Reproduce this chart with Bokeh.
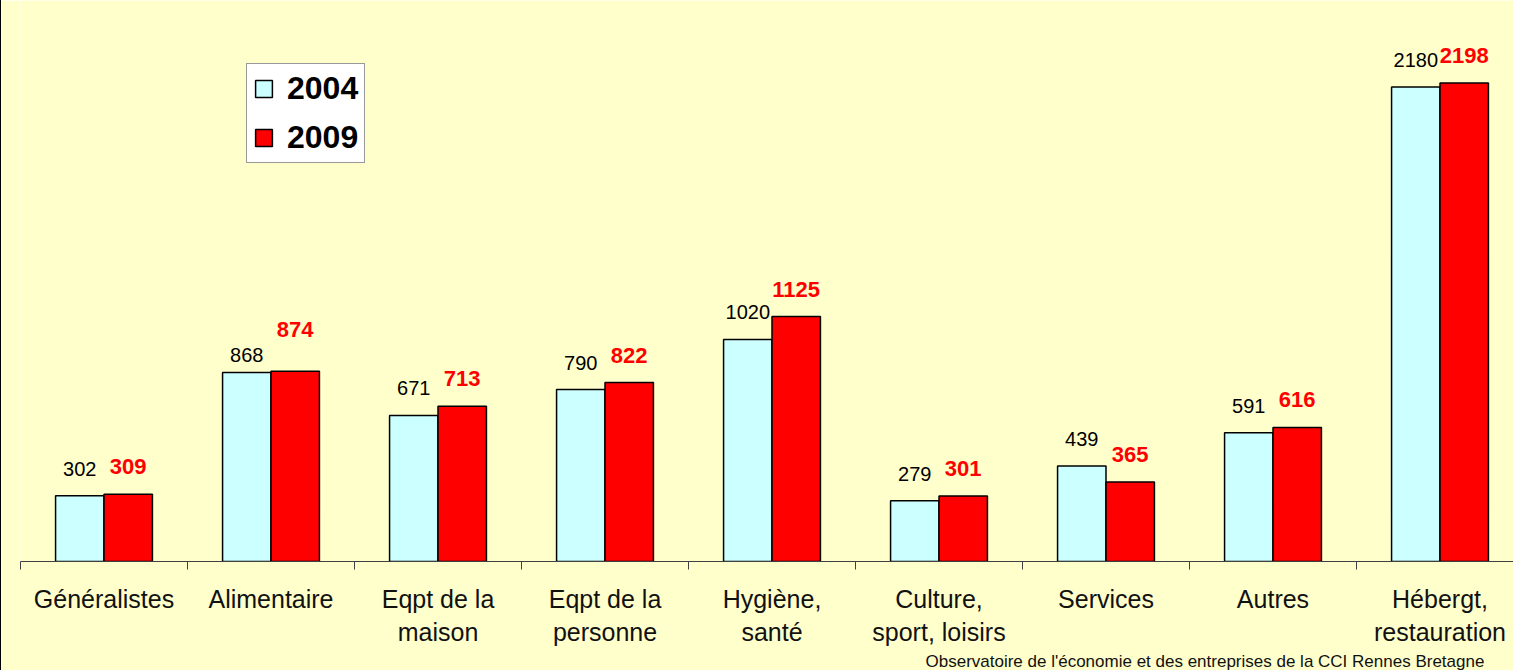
from bokeh.plotting import figure
from bokeh.models import ColumnDataSource, FixedTicker, LabelSet, Range1d, Title
from bokeh.core.properties import value
from bokeh.transform import dodge
from bokeh.embed import file_html
from bokeh.resources import INLINE

categories = ["Généralistes", "Alimentaire", "Eqpt de la\nmaison", "Eqpt de la\npersonne",
              "Hygiène,\nsanté", "Culture,\nsport, loisirs", "Services", "Autres",
              "Hébergt,\nrestauration"]
v2004 = [302, 868, 671, 790, 1020, 279, 439, 591, 2180]
v2009 = [309, 874, 713, 822, 1125, 301, 365, 616, 2198]
series = ["2004", "2009"]
footnote = "Observatoire de l'économie et des entreprises de la CCI Rennes Bretagne"

# styling: label offsets (px above bar top)
off2004 = [20, 11, 20, 20, 20, 20, 20, 20, 20]
off2009 = [20, 34, 20, 20, 20, 20, 20, 20, 20]

BG = "#FFFFCC"
C04 = "#CCFFFF"
C09 = "#FF0000"
FONT = "Liberation Sans"

xs = list(range(len(categories)))
src = ColumnDataSource(dict(x=xs, v04=v2004, v09=v2009,
                            t04=[str(v) for v in v2004], t09=[str(v) for v in v2009],
                            o04=off2004, o09=off2009))

p = figure(width=1513, height=670, output_backend="svg", toolbar_location=None,
           x_range=Range1d(-0.5, -0.5 + 1494 / 167), y_range=Range1d(0, 2577),
           min_border_left=19, min_border_right=0, min_border_top=0, min_border_bottom=109)
p.styles = {"border-left": "1px solid black"}
p.background_fill_color = BG
p.border_fill_color = BG
p.outline_line_color = None
p.grid.visible = False
p.yaxis.visible = False

bw = 0.29
p.vbar(x=dodge("x", -bw / 2, range=p.x_range), top="v04", width=bw, source=src,
       fill_color=C04, line_color="black", line_width=1.5, legend_label=series[0])
p.vbar(x=dodge("x", bw / 2, range=p.x_range), top="v09", width=bw, source=src,
       fill_color=C09, line_color="black", line_width=1.5, legend_label=series[1])

l1 = LabelSet(x=dodge("x", -bw / 2, range=p.x_range), y="v04", text="t04", source=src,
              y_offset="o04", text_align="center", text_baseline="alphabetic",
              text_font=value(FONT), text_font_size="20px", text_color="black")
l2 = LabelSet(x=dodge("x", bw / 2, range=p.x_range), y="v09", text="t09", source=src,
              y_offset="o09", text_align="center", text_baseline="alphabetic",
              text_font=value(FONT), text_font_size="22px", text_font_style="bold",
              text_color=C09)
p.add_layout(l1)
p.add_layout(l2)

ax = p.xaxis[0]
ax.ticker = FixedTicker(ticks=xs, minor_ticks=[i - 0.5 for i in range(len(categories) + 1)])
ax.major_label_overrides = {i: c for i, c in enumerate(categories)}
ax.major_tick_line_color = None
ax.major_tick_out = 0
ax.major_tick_in = 0
ax.minor_tick_out = 8
ax.minor_tick_in = 0
ax.minor_tick_line_color = "#404040"
ax.axis_line_color = "#404040"
ax.axis_line_width = 1
ax.major_label_standoff = 15
ax.major_label_text_font = FONT
ax.major_label_text_font_size = "25px"
ax.major_label_text_color = "#111111"
ax.major_label_text_line_height = 1.2

foot = Title(text=footnote, align="left", offset=905, standoff=0,
             text_font=FONT, text_font_size="17px", text_font_style="normal",
             text_color="#111111")
p.add_layout(foot, "below")

lg = p.legend[0]
lg.location = (226, 398)
lg.margin = 0
lg.padding = 6
lg.spacing = 12
lg.glyph_width = 21
lg.glyph_height = 21
lg.label_standoff = 13
lg.label_text_font = FONT
lg.label_text_font_size = "32px"
lg.label_text_font_style = "bold"
lg.label_text_color = "black"
lg.border_line_color = "#333333"
lg.border_line_width = 1
lg.background_fill_color = "white"
lg.background_fill_alpha = 1

open("out.html", "w").write(file_html(p, INLINE))
